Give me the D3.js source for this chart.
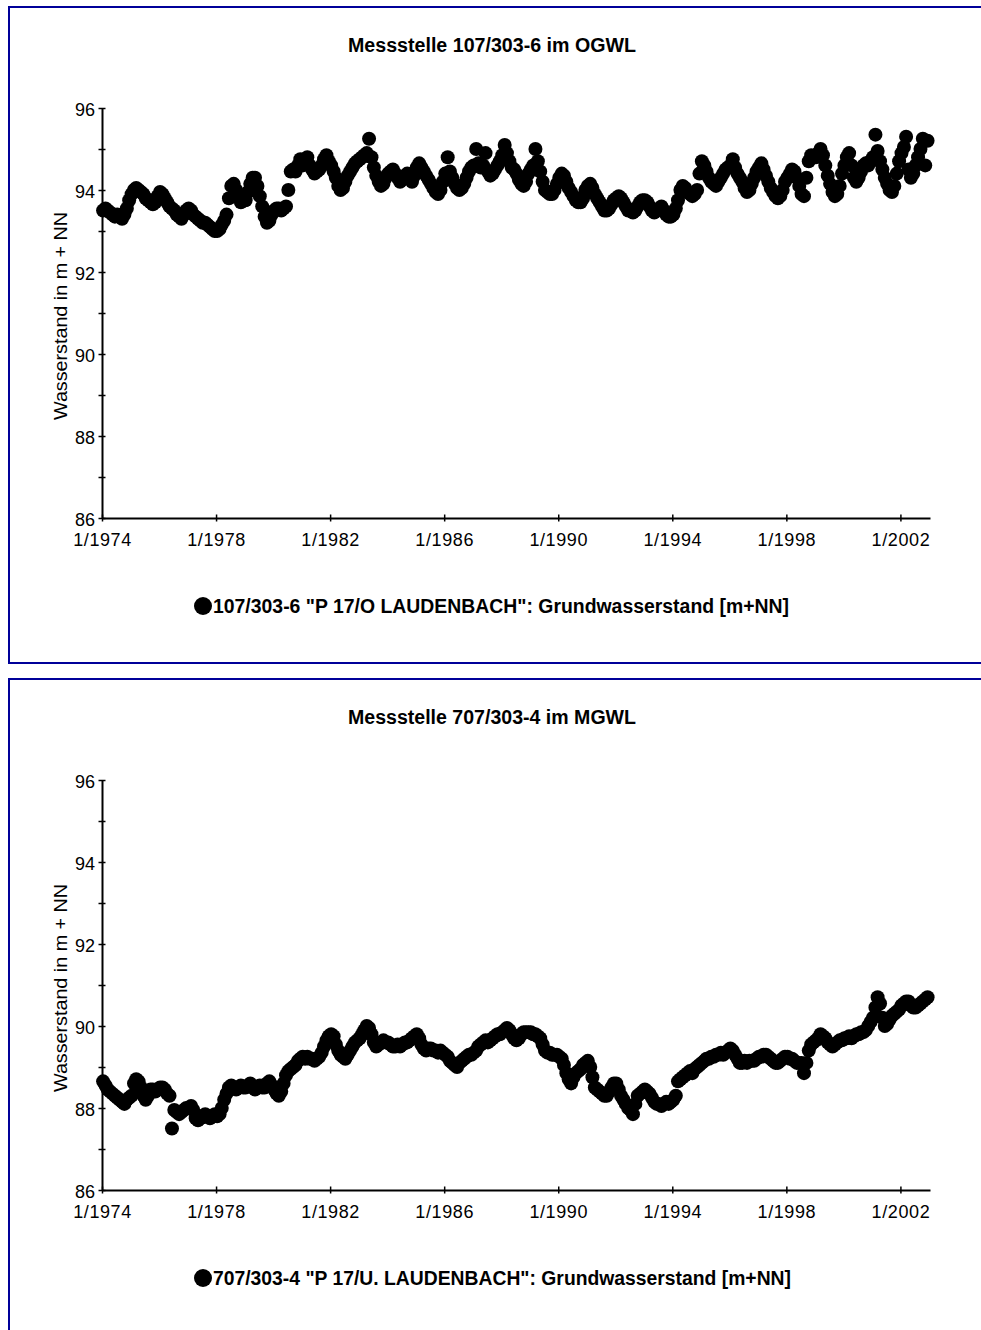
<!DOCTYPE html>
<html lang="de">
<head>
<meta charset="utf-8">
<title>Grundwasserstand Laudenbach</title>
<script src="https://d3js.org/d3.v7.min.js"></script>
<style>
  body { margin: 0; background: #fff; }
  svg text { font-family: "Liberation Sans", Arial, sans-serif; fill: #000; }
  .title, .legend { font-weight: bold; font-size: 20px; }
  .tick text { font-size: 18px; }
  .ylabel { font-size: 19px; }
</style>
</head>
<body>
<svg width="981" height="1330"></svg>
<script>
// monthly readings, starting 1/1974
const startYear = 1974;
const xTickYears = [1974, 1978, 1982, 1986, 1990, 1994, 1998, 2002];
const yTicks = [86, 87, 88, 89, 90, 91, 92, 93, 94, 95, 96];
const titles = ["Messstelle 107/303-6 im OGWL", "Messstelle 707/303-4 im MGWL"];
const legends = ['107/303-6 "P 17/O LAUDENBACH": Grundwasserstand [m+NN]',
                 '707/303-4 "P 17/U. LAUDENBACH": Grundwasserstand [m+NN]'];

const ogwl = [
  93.5, 93.55, 93.5, 93.45, 93.4, 93.35, 93.4, 93.35, 93.3, 93.4, 93.55, 93.75,   // 1974
  93.9, 94.0, 94.05, 94.0, 93.95, 93.9, 93.8, 93.75, 93.7, 93.65, 93.7, 93.85,    // 1975
  93.95, 93.9, 93.8, 93.7, 93.6, 93.55, 93.5, 93.4, 93.35, 93.3, 93.4, 93.5,      // 1976
  93.55, 93.5, 93.4, 93.35, 93.3, 93.25, 93.2, 93.2, 93.15, 93.1, 93.05, 93.0,    // 1977
  93.0, 93.05, 93.15, 93.25, 93.4, 93.8, 94.1, 94.15, 94.0, 93.85, 93.7, 93.75,   // 1978
  93.75, 93.95, 94.15, 94.3, 94.3, 94.1, 93.85, 93.6, 93.35, 93.2, 93.25, 93.4,   // 1979
  93.5, 93.55, 93.55, 93.5, 93.55, 93.6, 94.0, 94.45, 94.5, 94.45, 94.6, 94.75,   // 1980
  94.6, 94.7, 94.8, 94.6, 94.5, 94.4, 94.45, 94.5, 94.6, 94.75, 94.85, 94.7,      // 1981
  94.6, 94.45, 94.3, 94.1, 94.0, 94.05, 94.2, 94.35, 94.45, 94.55, 94.65, 94.7,   // 1982
  94.75, 94.8, 94.85, 94.9, 95.25, 94.8, 94.55, 94.35, 94.2, 94.1, 94.15, 94.3,   // 1983
  94.4, 94.45, 94.5, 94.4, 94.3, 94.2, 94.25, 94.35, 94.4, 94.3, 94.2, 94.35,     // 1984
  94.55, 94.65, 94.55, 94.45, 94.35, 94.25, 94.15, 94.05, 93.95, 93.9, 94.0, 94.2, // 1985
  94.4, 94.8, 94.45, 94.3, 94.15, 94.05, 94.0, 94.05, 94.15, 94.3, 94.45, 94.55,  // 1986
  94.6, 95.0, 94.65, 94.55, 94.6, 94.9, 94.45, 94.35, 94.4, 94.5, 94.6, 94.7,     // 1987
  94.85, 95.1, 94.9, 94.7, 94.55, 94.5, 94.4, 94.25, 94.15, 94.1, 94.2, 94.4,     // 1988
  94.5, 94.6, 95.0, 94.7, 94.45, 94.2, 94.0, 93.95, 93.9, 93.9, 94.0, 94.15,      // 1989
  94.3, 94.4, 94.35, 94.2, 94.05, 93.95, 93.85, 93.75, 93.7, 93.7, 93.8, 94.0,    // 1990
  94.1, 94.15, 94.05, 93.9, 93.8, 93.7, 93.6, 93.5, 93.5, 93.55, 93.65, 93.75,    // 1991
  93.8, 93.85, 93.8, 93.7, 93.6, 93.5, 93.5, 93.45, 93.5, 93.6, 93.7, 93.75,      // 1992
  93.75, 93.7, 93.6, 93.5, 93.45, 93.5, 93.55, 93.6, 93.5, 93.4, 93.35, 93.35,    // 1993
  93.4, 93.55, 93.75, 94.0, 94.1, 94.05, 93.95, 93.9, 93.85, 93.9, 94.0, 94.4,    // 1994
  94.7, 94.6, 94.45, 94.3, 94.2, 94.15, 94.1, 94.2, 94.3, 94.4, 94.5, 94.55,      // 1995
  94.6, 94.75, 94.55, 94.4, 94.3, 94.2, 94.05, 93.95, 94.0, 94.15, 94.3, 94.45,   // 1996
  94.55, 94.65, 94.5, 94.35, 94.2, 94.05, 93.95, 93.85, 93.8, 93.85, 94.0, 94.2,  // 1997
  94.3, 94.4, 94.5, 94.45, 94.3, 94.1, 93.9, 93.85, 94.3, 94.7, 94.85, 94.8,      // 1998
  94.8, 94.9, 95.0, 94.85, 94.6, 94.35, 94.15, 93.95, 93.85, 93.9, 94.1, 94.4,    // 1999
  94.6, 94.8, 94.9, 94.6, 94.3, 94.2, 94.3, 94.45, 94.6, 94.65, 94.6, 94.7,       // 2000
  94.8, 95.35, 94.95, 94.7, 94.5, 94.3, 94.15, 94.0, 93.95, 94.1, 94.4, 94.7,     // 2001
  94.9, 95.05, 95.3, 94.5, 94.3, 94.4, 94.6, 94.8, 95.0, 95.25, 94.6, 95.2        // 2002
];

const mgwl = [
  88.65, 88.55, 88.45, 88.4, 88.35, 88.3, 88.25, 88.2, 88.15, 88.1, 88.2, 88.25,  // 1974
  88.3, 88.6, 88.7, 88.65, 88.5, 88.3, 88.2, 88.3, 88.45, 88.45, 88.4, 88.45,     // 1975
  88.5, 88.5, 88.45, 88.35, 88.3, 87.5, 87.95, 87.9, 87.85, 87.9, 87.95, 88.0,    // 1976
  88.0, 88.05, 87.95, 87.75, 87.7, 87.75, 87.8, 87.85, 87.8, 87.75, 87.8, 87.85,  // 1977
  87.8, 87.85, 88.0, 88.2, 88.35, 88.5, 88.55, 88.5, 88.45, 88.5, 88.55, 88.5,    // 1978
  88.5, 88.55, 88.6, 88.5, 88.45, 88.5, 88.55, 88.5, 88.5, 88.6, 88.65, 88.55,    // 1979
  88.45, 88.35, 88.3, 88.4, 88.6, 88.8, 88.9, 88.95, 89.0, 89.05, 89.15, 89.2,    // 1980
  89.25, 89.2, 89.25, 89.2, 89.2, 89.15, 89.2, 89.25, 89.35, 89.5, 89.65, 89.75,  // 1981
  89.8, 89.75, 89.55, 89.4, 89.3, 89.25, 89.2, 89.3, 89.4, 89.5, 89.6, 89.65,     // 1982
  89.7, 89.8, 89.9, 90.0, 89.95, 89.8, 89.6, 89.5, 89.55, 89.6, 89.65, 89.6,      // 1983
  89.6, 89.55, 89.5, 89.5, 89.55, 89.5, 89.55, 89.6, 89.6, 89.65, 89.7, 89.75,    // 1984
  89.8, 89.7, 89.55, 89.45, 89.4, 89.45, 89.45, 89.4, 89.4, 89.35, 89.4, 89.35,   // 1985
  89.3, 89.25, 89.15, 89.1, 89.05, 89.0, 89.1, 89.15, 89.2, 89.25, 89.3, 89.3,    // 1986
  89.35, 89.4, 89.5, 89.55, 89.6, 89.65, 89.6, 89.65, 89.7, 89.75, 89.8, 89.8,    // 1987
  89.85, 89.9, 89.95, 89.9, 89.8, 89.7, 89.65, 89.7, 89.8, 89.85, 89.85, 89.85,   // 1988
  89.85, 89.8, 89.8, 89.75, 89.7, 89.55, 89.4, 89.35, 89.35, 89.3, 89.3, 89.3,    // 1989
  89.25, 89.2, 89.05, 88.85, 88.7, 88.6, 88.75, 88.85, 88.9, 88.95, 89.05, 89.1,  // 1990
  89.15, 89.0, 88.75, 88.5, 88.45, 88.4, 88.35, 88.3, 88.3, 88.4, 88.5, 88.6,     // 1991
  88.6, 88.45, 88.3, 88.2, 88.1, 88.0, 87.95, 87.85, 88.1, 88.3, 88.35, 88.4,     // 1992
  88.45, 88.4, 88.35, 88.25, 88.15, 88.1, 88.1, 88.05, 88.1, 88.15, 88.1, 88.15,  // 1993
  88.2, 88.3, 88.65, 88.7, 88.75, 88.8, 88.85, 88.9, 88.85, 88.95, 89.0, 89.05,   // 1994
  89.1, 89.15, 89.2, 89.2, 89.25, 89.25, 89.3, 89.3, 89.35, 89.3, 89.35, 89.4,    // 1995
  89.45, 89.4, 89.3, 89.2, 89.1, 89.1, 89.15, 89.1, 89.15, 89.15, 89.15, 89.2,    // 1996
  89.25, 89.25, 89.3, 89.3, 89.25, 89.2, 89.15, 89.1, 89.1, 89.15, 89.2, 89.25,   // 1997
  89.25, 89.2, 89.2, 89.15, 89.1, 89.1, 89.1, 88.85, 89.1, 89.4, 89.55, 89.6,     // 1998
  89.65, 89.7, 89.8, 89.75, 89.7, 89.6, 89.55, 89.5, 89.55, 89.6, 89.65, 89.65,   // 1999
  89.7, 89.7, 89.75, 89.7, 89.75, 89.8, 89.8, 89.85, 89.85, 89.9, 90.0, 90.1,     // 2000
  90.2, 90.45, 90.7, 90.55, 90.2, 90.0, 90.05, 90.15, 90.25, 90.3, 90.35, 90.4,   // 2001
  90.5, 90.55, 90.6, 90.6, 90.5, 90.45, 90.45, 90.5, 90.55, 90.6, 90.65, 90.7     // 2002
];

const panels = [
  {title: titles[0], legend: legends[0], values: ogwl, top: 0},
  {title: titles[1], legend: legends[1], values: mgwl, top: 672}
];

const svg = d3.select("svg");
const borderColor = "#000099";

const x = d3.scaleTime()
  .domain([new Date(1974, 0, 1), new Date(2003, 0, 15)])
  .range([102, 930]);
const y = d3.scaleLinear()
  .domain([86, 96])
  .range([518, 108]);

panels.forEach(p => {
  const g = svg.append("g").attr("transform", "translate(0," + p.top + ")");

  // frame
  g.append("rect")
    .attr("x", 9).attr("y", 7)
    .attr("width", 1000).attr("height", 656)
    .attr("fill", "none")
    .attr("stroke", borderColor)
    .attr("stroke-width", 2);

  // title
  g.append("text")
    .attr("class", "title")
    .attr("x", 492).attr("y", 52)
    .attr("text-anchor", "middle")
    .attr("textLength", 288)
    .attr("lengthAdjust", "spacingAndGlyphs")
    .text(p.title);

  // y axis
  const yAxis = g.append("g")
    .attr("transform", "translate(" + x.range()[0] + ",0)")
    .call(d3.axisLeft(y)
      .tickValues(yTicks)
      .tickSizeOuter(0)
      .tickFormat(d => d % 2 === 0 ? d : ""));
  yAxis.select(".domain").attr("stroke-width", 2);
  yAxis.selectAll(".tick line").attr("x1", -3.5).attr("x2", 3.5).attr("stroke-width", 1.5);
  yAxis.selectAll(".tick text").attr("x", -7).attr("dy", "0.4em");

  // x axis
  const xAxis = g.append("g")
    .attr("transform", "translate(0," + y.range()[0] + ")")
    .call(d3.axisBottom(x)
      .tickValues(xTickYears.map(yr => new Date(yr, 0, 1)))
      .tickSizeOuter(0)
      .tickFormat(d3.timeFormat("1/%Y")));
  xAxis.select(".domain").attr("stroke-width", 2);
  xAxis.selectAll(".tick line").attr("y1", -3.5).attr("y2", 3.5).attr("stroke-width", 1.5);
  xAxis.selectAll(".tick text").attr("y", 15).attr("dy", "0.71em").attr("letter-spacing", "0.6px");

  // y label
  g.append("text")
    .attr("class", "ylabel")
    .attr("transform", "translate(67,316) rotate(-90)")
    .attr("text-anchor", "middle")
    .attr("textLength", 208)
    .attr("lengthAdjust", "spacingAndGlyphs")
    .text("Wasserstand in m + NN");

  // data points
  g.append("g")
    .selectAll("circle")
    .data(p.values)
    .join("circle")
    .attr("cx", (d, i) => x(new Date(startYear, i, 15)))
    .attr("cy", d => y(d))
    .attr("r", 7)
    .attr("fill", "#000");

  // legend
  g.append("circle")
    .attr("cx", 203).attr("cy", 606)
    .attr("r", 9)
    .attr("fill", "#000");
  g.append("text")
    .attr("class", "legend")
    .attr("x", 213).attr("y", 613)
    .attr("textLength", p.top === 0 ? 576 : 578)
    .attr("lengthAdjust", "spacingAndGlyphs")
    .text(p.legend);
});
</script>
</body>
</html>
